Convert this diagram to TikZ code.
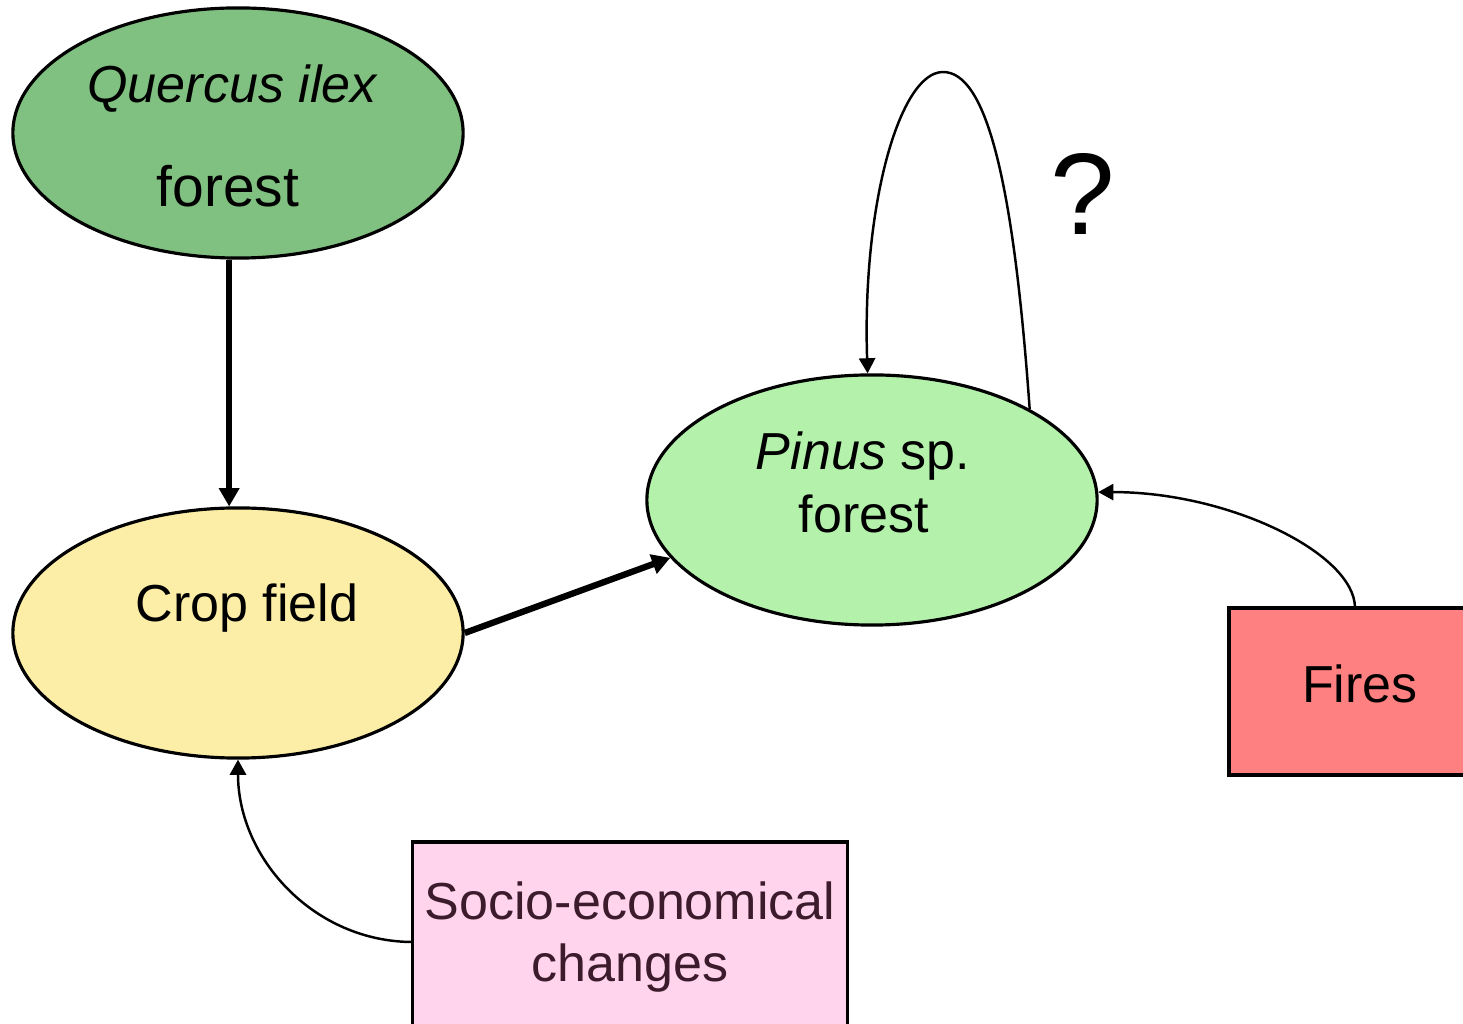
\documentclass[tikz,border=0pt]{standalone}
\usepackage{fontspec}
\setmainfont{Liberation Sans}
\usepackage{xcolor}
\usetikzlibrary{shapes.geometric}
\usetikzlibrary{arrows.meta}

\definecolor{oakgreen}{RGB}{128,192,128}
\definecolor{cropyellow}{RGB}{252,238,166}
\definecolor{pinegreen}{RGB}{180,242,172}
\definecolor{firered}{RGB}{255,128,128}
\definecolor{socpink}{RGB}{255,212,236}
\definecolor{soctext}{RGB}{60,28,44}

\begin{document}
\begin{tikzpicture}[x=0.01cm,y=0.01cm,
   state/.style={ellipse,draw,line width=0.9pt,minimum width=4.5cm,minimum height=2.5cm,inner sep=0pt},
   driver/.style={rectangle,draw,line width=0.9pt,inner sep=0pt},
   lbl/.style={anchor=base,inner sep=0pt,font=\fontsize{14.8}{17.6}\selectfont},
   bigarrow/.style={line width=1.8pt,-{Triangle[length=5.2pt,width=5.6pt]}},
   smallarrow/.style={line width=0.7pt,-{Triangle[length=4.3pt,width=4.6pt]}}]
\useasboundingbox (0,0) rectangle (1463,1024);
\clip (0,0) rectangle (1463,1024);

% land-cover states
\node [state,fill=oakgreen] (quercus) at (238,891) {};
\node [state,fill=cropyellow] (crop) at (238,391) {};
\node [state,fill=pinegreen] (pinus) at (872,524) {};
\node [lbl] (quercusA) at (232,921) {\itshape Quercus ilex};
\node [lbl,font=\fontsize{16.2}{19}\selectfont] (quercusB) at (228,817) {forest};
\node [lbl] (cropA) at (247,402) {Crop field};
\node [lbl] (pinusA) at (863,554) {\textit{Pinus} sp.};
\node [lbl] (pinusB) at (864,491) {forest};

% drivers
\node [driver,fill=firered,minimum width=2.62cm,minimum height=1.67cm] (fires) at (1360,332.5) {};
\node [driver,fill=socpink,minimum width=4.34cm,minimum height=1.9cm] (socio) at (630,87) {};
\node [lbl] (firesA) at (1360,321) {Fires};
\node [lbl,text=soctext] (socioA) at (630,104) {Socio-economical};
\node [lbl,text=soctext] (socioB) at (630,42) {changes};
\node [lbl,font=\fontsize{33}{38}\selectfont] (question) at (1083,789) {?};

% transitions
\draw [bigarrow] (quercus.266) -- (crop.94);
\draw [bigarrow] (crop.east) -- (pinus.196);
\coordinate (loopTop) at (943,952);
\draw [smallarrow] (pinus.30) .. controls (1013,850) and (985,952) .. (loopTop)
   .. controls (900,952) and (862,820) .. (pinus.92);
\coordinate (firesTop) at (1355,416);
\draw [smallarrow] (firesTop) .. controls (1355,470) and (1230,532) .. (pinus.2);
\coordinate (socioLeft) at (413,82);
\draw [smallarrow] (socioLeft) to[out=180,in=-90] (crop.south);
\end{tikzpicture}
\end{document}
